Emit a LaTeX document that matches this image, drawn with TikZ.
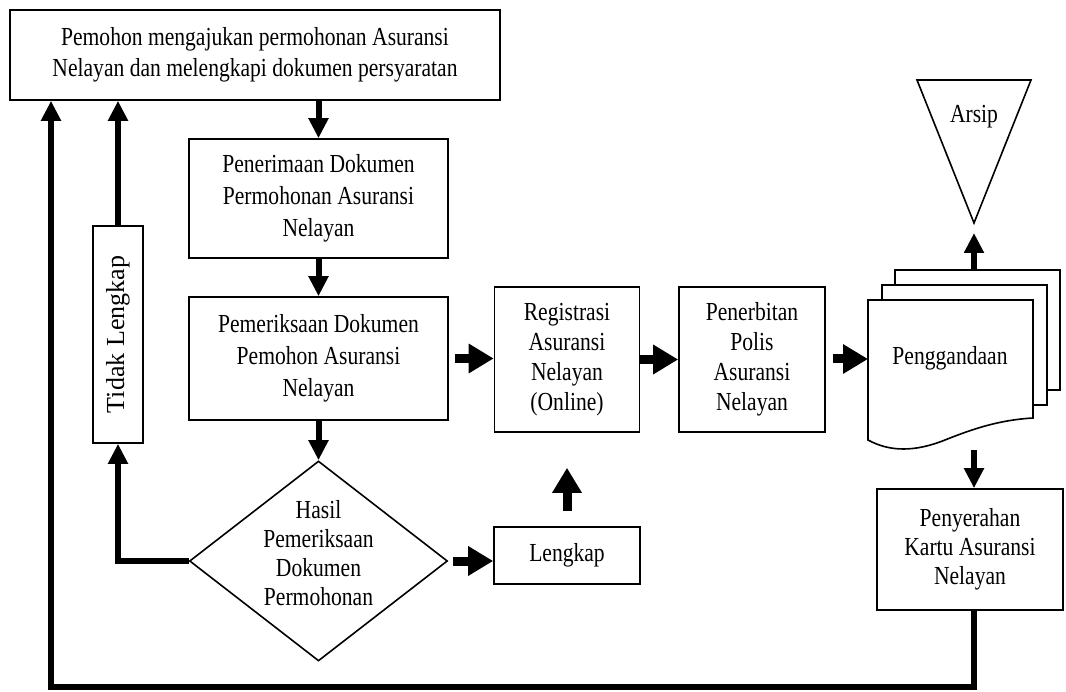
\documentclass[tikz,border=0pt]{standalone}
\usepackage{fontspec}
\setmainfont{Liberation Serif}[FakeStretch=0.83]
\newfontfamily\rotfont{Liberation Serif}
\usetikzlibrary{arrows.meta,shapes.geometric}
\begin{document}
\begin{tikzpicture}[x=1pt,y=-1pt,
  box/.style={draw, line width=1.6pt, rectangle, inner sep=0pt, align=center,
    font=\fontsize{26}{31}\selectfont},
  txt/.style={inner sep=0pt, align=center, font=\fontsize{26}{30}\selectfont},
  arr/.style={line width=6pt, -{Triangle[length=20pt,width=19pt]}},
  bigarr/.style={line width=9pt, -{Triangle[length=25pt,width=28pt]}},
  loopline/.style={line width=6pt, line join=miter, -{Triangle[length=20pt,width=19pt]}},
  shp/.style={draw, line width=1.6pt, fill=white}]
\useasboundingbox (0,0) rectangle (1066,692);

% boxes
\node[box, minimum width=490pt, minimum height=90pt] (top) at (255,55)
  {Pemohon mengajukan permohonan Asuransi\\Nelayan dan melengkapi dokumen persyaratan};
\node[box, minimum width=259pt, minimum height=119pt, font=\fontsize{26}{32}\selectfont] (pen1) at (318.5,198.5)
  {Penerimaan Dokumen\\Permohonan Asuransi\\Nelayan};
\node[box, minimum width=259pt, minimum height=123pt, font=\fontsize{26}{32}\selectfont] (pen2) at (318.5,358.5)
  {Pemeriksaan Dokumen\\Pemohon Asuransi\\Nelayan};
\node[box, minimum width=145pt, minimum height=145pt, font=\fontsize{26}{30}\selectfont] (reg) at (567,359.5)
  {Registrasi\\Asuransi\\Nelayan\\(Online)};
\node[box, minimum width=146pt, minimum height=145pt, font=\fontsize{26}{30}\selectfont] (pnb) at (752,359.5)
  {Penerbitan\\Polis\\Asuransi\\Nelayan};
\node[box, minimum width=146pt, minimum height=57pt] (lk) at (567,555.5) {Lengkap};
\node[box, minimum width=50pt, minimum height=217pt] (tl) at (118,334.5)
  {\rotatebox{90}{\rotfont\fontsize{26}{30}\selectfont Tidak Lengkap}};
\node[box, minimum width=186pt, minimum height=121pt, font=\fontsize{26}{29}\selectfont] (pny) at (970,549.5)
  {Penyerahan\\Kartu Asuransi\\Nelayan};

% decision
\node[shape=diamond, draw, line width=1.6pt, minimum width=258pt, minimum height=200pt,
  inner sep=0pt, shape aspect=1.29] (dia) at (318.5,561) {};
\node[txt, font=\fontsize{26}{29}\selectfont] (diatext) at (318.5,553)
  {Hasil\\Pemeriksaan\\Dokumen\\Permohonan};

% archive triangle
\draw[line width=1.6pt] (917,80) -- (1031,80) -- (974,223) -- cycle;
\coordinate (arsipv) at (974,223);
\node[txt] (arsip) at (974,117) {Arsip};

% multi-document
\draw[shp] (895,270) rectangle (1060,390);
\draw[shp] (882,285) rectangle (1047,405);
\draw[shp] (868,300) -- (1033,300) -- (1033,418)
  .. controls (1000,420) and (975,428) .. (945,440)
  .. controls (915,452) and (890,452) .. (868,440) -- cycle;
\node[txt] (pg) at (950,358) {Penggandaan};
\coordinate (pgtop) at (974,270);
\coordinate (pgbot) at (974,450);
\coordinate (pgleft) at (868,359);

% loop corners
\coordinate (lb) at (51,687);
\coordinate (rb) at (974,687);

% connectors
\draw[arr] (pen1.north |- top.south) -- (pen1.north);
\draw[arr] (pen1.south) -- (pen2.north);
\draw[arr] (pen2.south) -- (dia.north);
\draw[bigarr, shorten <=6pt] (pen2.east) -- (pen2.east -| reg.west);
\draw[bigarr, shorten <=5pt] (dia.east) -- (dia.east -| lk.west);
\draw[bigarr, shorten <=15pt, shorten >=35pt] (lk.north) -- (reg.south);
\draw[bigarr] (reg.east) -- (pnb.west);
\draw[bigarr, shorten <=7pt] (pnb.east |- pgleft) -- (pgleft);
\draw[arr, shorten >=10pt] (pgtop) -- (arsipv);
\draw[arr] (pgbot) -- (pgbot |- pny.north);
\draw[loopline] (rb |- pny.south) -- (rb) -- (lb) -- (lb |- top.south);
\draw[line width=6pt, line join=miter, -{Triangle[length=20pt,width=19pt]}]
  (dia.west) -- (tl.south |- dia.west) -- (tl.south);
\draw[arr] (tl.north) -- (tl.north |- top.south);
\end{tikzpicture}
\end{document}
